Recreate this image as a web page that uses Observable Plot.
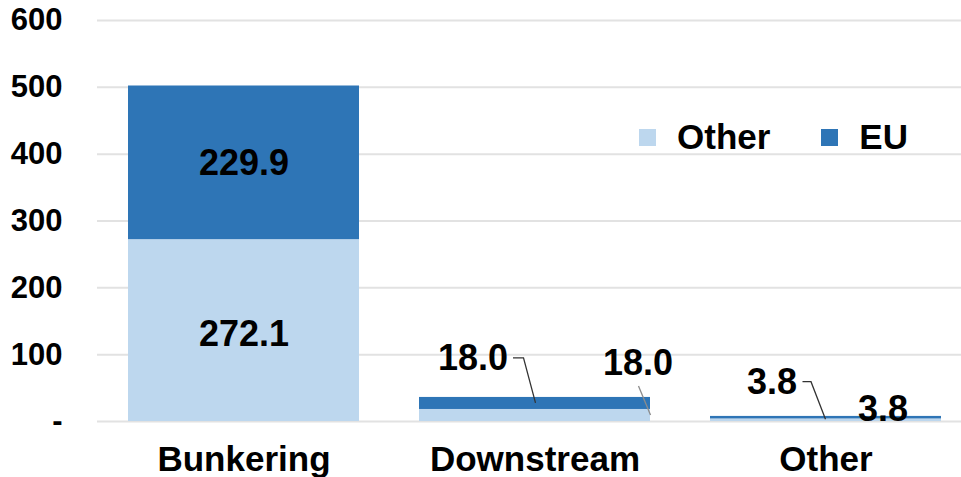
<!DOCTYPE html>
<html>
<head>
<meta charset="utf-8">
<script src="https://cdn.jsdelivr.net/npm/d3@7"></script>
<script src="https://cdn.jsdelivr.net/npm/@observablehq/plot@0.6"></script>
<style>
  html, body { margin: 0; padding: 0; background: #fff; }
  #wrap { position: relative; width: 961px; height: 477px; overflow: hidden; font-family: "Liberation Sans", Arial, sans-serif; }
  #legend { position: absolute; left: 639px; top: 117px; display: flex; align-items: center; font-size: 35px; font-weight: bold; color: #000; }
  #legend .item { display: flex; align-items: center; }
  #legend .sw { width: 17px; height: 17px; margin-right: 21px; }
  #legend .item + .item { margin-left: 51px; }
</style>
</head>
<body>
<div id="wrap"><div id="legend"></div></div>
<script>
// ---- data ----
const categories = ["Bunkering", "Downstream", "Other"];
const series = ["Other", "EU"];
const otherValues = [272.1, 18.0, 3.8];
const euValues = [229.9, 18.0, 3.8];
const yTicks = [0, 100, 200, 300, 400, 500, 600];
const seriesColors = ["#BDD7EE", "#2E75B6"];

// ---- derived tables ----
const rows = [];
const labelRows = [];
categories.forEach((c, i) => {
  rows.push({category: c, series: "Other", value: otherValues[i]});
  rows.push({category: c, series: "EU", value: euValues[i]});
  labelRows.push({category: c, series: "Other", mid: otherValues[i] / 2, text: otherValues[i].toFixed(1)});
  labelRows.push({category: c, series: "EU", mid: otherValues[i] + euValues[i] / 2, text: euValues[i].toFixed(1)});
});

// label placement (styling, in pixels)
const labelStyle = [
  {category: "Bunkering", series: "Other", dx: 0, dy: 4},
  {category: "Bunkering", series: "EU", dx: 0, dy: 1},
  {category: "Downstream", series: "EU", dx: -62, dy: -45, path: [[-21.5, -45], [-11, -45], [1, 0]]},
  {category: "Downstream", series: "Other", dx: 103, dy: -52, path: [[104, -29], [116, 0]], stroke: "#8c8c8c"},
  {category: "Other", series: "EU", dx: -54, dy: -35, path: [[-23, -35.5], [-14.5, -35.5], [0, 2]]},
  {category: "Other", series: "Other", dx: 57, dy: -11}
];
const findRow = (s) => labelRows.find(r => r.category === s.category && r.series === s.series);

const textMarks = labelStyle.map(s => Plot.text([findRow(s)], {
  x: "category", y: "mid", text: "text", dx: s.dx, dy: s.dy,
  fontSize: 36, fontWeight: "bold", fill: "#000"
}));

const leaders = (index, scales) => {
  const xs = scales.x;
  const bw = typeof xs.bandwidth === "function" ? xs.bandwidth() : (scales.scales && scales.scales.x ? scales.scales.x.bandwidth : 0);
  const g = d3.create("svg:g").attr("fill", "none").attr("stroke-width", 1.3);
  labelStyle.filter(s => s.path).forEach(s => {
    const r = findRow(s);
    const cx = xs(r.category) + bw / 2;
    const cy = scales.y(r.mid);
    g.append("path")
      .attr("stroke", s.stroke || "#333333")
      .attr("d", d3.line()(s.path.map(([dx, dy]) => [cx + dx, cy + dy])));
  });
  return g.node();
};

const chart = Plot.plot({
  width: 961,
  height: 477,
  marginTop: 20,
  marginBottom: 56,
  marginLeft: 97,
  marginRight: 0,
  style: {fontFamily: "Liberation Sans, Arial, sans-serif", fontWeight: "bold", color: "#000", background: "#fff", overflow: "hidden"},
  x: {domain: categories, range: [97, 971], paddingInner: 0.2075, paddingOuter: 0.104, align: 0.5, axis: null},
  y: {domain: [0, 600], axis: null},
  color: {domain: series, range: seriesColors},
  marks: [
    Plot.ruleY(yTicks, {stroke: "#e2e2e2", strokeWidth: 2}),
    Plot.barY(rows, {x: "category", y: "value", fill: "series"}),
    Plot.axisY(yTicks, {tickSize: 0, tickPadding: 35, fontSize: 31, fontWeight: "bold", label: null,
      tickFormat: d => d === 0 ? "-" : String(d)}),
    Plot.axisX({tickSize: 0, tickPadding: 25, fontSize: 35, fontWeight: "bold", label: null}),
    ...textMarks,
    leaders
  ]
});
document.getElementById("wrap").prepend(chart);

// legend
const legend = d3.select("#legend");
series.forEach((s, i) => {
  const it = legend.append("div").attr("class", "item");
  it.append("div").attr("class", "sw").style("background", seriesColors[i]);
  it.append("span").text(s);
});
</script>
</body>
</html>
